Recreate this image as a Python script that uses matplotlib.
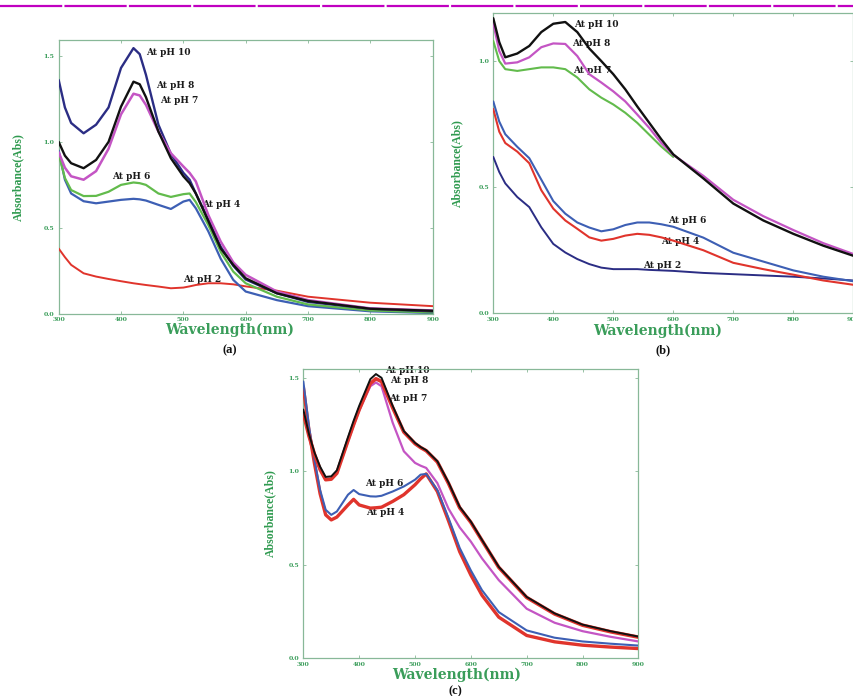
import numpy as np
import matplotlib
matplotlib.use("Agg")
import matplotlib.pyplot as plt
from matplotlib.lines import Line2D

plt.rcParams['font.family'] = 'DejaVu Serif'
plt.rcParams['font.weight'] = 'bold'

nan = np.nan

# panel (a)
wl_a = [300, 310, 320, 340, 360, 380, 400, 420, 430, 440, 460, 480, 500, 510, 520,
        540, 560, 580, 600, 650, 700, 800, 900]
a_ph10 = [1.36, 1.20, 1.11, 1.05, 1.10, 1.20, 1.43, 1.545, 1.51, 1.39, 1.10, 0.93, 0.82, 0.78, 0.70,
          0.55, 0.39, 0.28, 0.20, 0.12, 0.07, 0.03, 0.015]
a_ph8 = [1.00, 0.92, 0.876, 0.847, 0.895, 1.00, 1.205, 1.35, 1.335, 1.26, 1.06, 0.905, 0.80, 0.76, 0.70,
         0.54, 0.38, 0.285, 0.207, 0.12, 0.075, 0.03, 0.018]
a_ph7 = [0.94, 0.85, 0.80, 0.78, 0.83, 0.96, 1.16, 1.28, 1.27, 1.215, 1.06, 0.934, 0.857, 0.82, 0.77,
         0.575, 0.42, 0.30, 0.227, 0.13, 0.08, 0.032, 0.02]
a_ph6 = [0.93, 0.79, 0.72, 0.685, 0.686, 0.71, 0.75, 0.764, 0.76, 0.75, 0.70, 0.68, 0.696, 0.70, 0.65,
         0.517, 0.36, 0.246, 0.178, 0.10, 0.055, 0.02, 0.008]
a_ph4 = [0.95, 0.78, 0.70, 0.655, 0.643, 0.653, 0.663, 0.669, 0.666, 0.659, 0.634, 0.61, 0.653, 0.663, 0.614,
         0.48, 0.32, 0.198, 0.13, 0.08, 0.045, 0.015, 0.005]
a_ph2 = [0.38, 0.33, 0.285, 0.236, 0.217, 0.203, 0.19, 0.178, 0.173, 0.168, 0.159, 0.149, 0.153, 0.16, 0.168,
         0.178, 0.178, 0.172, 0.16, 0.135, 0.10, 0.065, 0.045]

# panel (b)
wl_b = [300, 310, 320, 340, 360, 380, 400, 420, 440, 460, 480, 500, 520, 540, 560, 580, 600,
        650, 700, 750, 800, 850, 900]
b_ph10 = [1.17, 1.075, 1.015, 1.03, 1.06, 1.115, 1.148, 1.155, 1.115, 1.05, 1.00, 0.948, 0.888, 0.82,
          0.755, 0.69, 0.63, 0.535, 0.435, 0.368, 0.315, 0.268, 0.228]
b_ph8 = [1.15, 1.04, 0.99, 0.995, 1.015, 1.055, 1.07, 1.068, 1.02, 0.948, 0.915, 0.88, 0.84, 0.788,
         0.735, 0.675, 0.628, 0.545, 0.45, 0.385, 0.33, 0.278, 0.235]
b_ph7 = [1.08, 1.00, 0.968, 0.961, 0.968, 0.975, 0.975, 0.968, 0.935, 0.888, 0.855, 0.828, 0.795, 0.755,
         0.708, 0.661, 0.62, nan, nan, nan, nan, nan, nan]
b_ph6 = [0.84, 0.76, 0.71, 0.66, 0.615, 0.53, 0.445, 0.395, 0.36, 0.34, 0.325, 0.333, 0.35, 0.36,
         0.36, 0.353, 0.343, 0.30, 0.24, 0.205, 0.17, 0.145, 0.127]
b_ph4 = [0.81, 0.72, 0.675, 0.641, 0.595, 0.488, 0.415, 0.368, 0.335, 0.301, 0.288, 0.295, 0.308, 0.315,
         0.311, 0.301, 0.288, 0.25, 0.20, 0.175, 0.153, 0.13, 0.113]
b_ph2 = [0.62, 0.56, 0.515, 0.461, 0.421, 0.341, 0.275, 0.241, 0.215, 0.195, 0.181, 0.175, 0.175, 0.175,
         0.172, 0.17, 0.168, 0.16, 0.155, 0.15, 0.145, 0.138, 0.13]

# panel (c)
wl_c = [300, 310, 320, 330, 340, 350, 360, 380, 390, 400, 420, 430, 440, 460, 480, 500, 510, 520,
        540, 560, 580, 600, 620, 650, 700, 750, 800, 850, 900]
c_ph10 = [1.33, 1.20, 1.10, 1.025, 0.97, 0.973, 1.005, 1.183, 1.27, 1.35, 1.493, 1.52, 1.50, 1.35,
          1.215, 1.152, 1.13, 1.113, 1.054, 0.94, 0.81, 0.731, 0.633, 0.489, 0.328, 0.24, 0.18, 0.145, 0.116]
c_ph8 = [1.31, 1.19, 1.09, 1.01, 0.955, 0.958, 0.99, 1.165, 1.25, 1.33, 1.47, 1.495, 1.48, 1.34,
         1.21, 1.148, 1.127, 1.11, 1.05, 0.935, 0.805, 0.727, 0.63, 0.486, 0.325, 0.237, 0.177, 0.142, 0.113]
c_ph7 = [1.31, 1.19, 1.09, 1.01, 0.955, 0.958, 0.99, 1.16, 1.245, 1.325, 1.455, 1.475, 1.455, 1.26,
         1.107, 1.045, 1.03, 1.018, 0.937, 0.80, 0.70, 0.624, 0.534, 0.418, 0.265, 0.19, 0.145, 0.115, 0.09]
c_ph6 = [1.48, 1.24, 1.06, 0.90, 0.794, 0.767, 0.785, 0.875, 0.90, 0.878, 0.866, 0.865, 0.869, 0.892,
         0.919, 0.955, 0.982, 0.986, 0.90, 0.75, 0.59, 0.47, 0.364, 0.247, 0.149, 0.11, 0.09, 0.078, 0.068]
c_ph4 = [1.45, 1.22, 1.04, 0.88, 0.767, 0.74, 0.755, 0.82, 0.85, 0.82, 0.803, 0.805, 0.808, 0.839,
         0.875, 0.928, 0.96, 0.986, 0.892, 0.735, 0.57, 0.445, 0.337, 0.22, 0.122, 0.088, 0.07, 0.06, 0.052]

xticks = [300, 400, 500, 600, 700, 800, 900]

navy = '#2b2d84'
black = '#111111'
magenta = '#c455c4'
green = '#62bb4c'
blue = '#3d5fb4'
red = '#e0342c'
spine_col = '#88b898'
label_green = '#3a9d5a'

W, H = 854, 696


def px(x, y):
    return x / W, 1 - y / H


fig = plt.figure(figsize=(W / 100, H / 100), dpi=100)

# magenta rule along the top
fig.add_artist(Line2D([0, 1], [1 - 6 / H, 1 - 6 / H], transform=fig.transFigure,
                      color='#c000c0', lw=1.6, dashes=(28, 1)))


def setup(ax, ytop, yticks):
    ax.set_xlim(300, 900)
    ax.set_ylim(0, ytop)
    ax.set_xticks(xticks)
    ax.set_xticklabels([str(t) for t in xticks])
    ax.set_yticks(yticks)
    ax.set_yticklabels(['%.1f' % t for t in yticks])
    ax.tick_params(direction='in', length=2.5, width=0.6, color=spine_col,
                   labelcolor=label_green, labelsize=4.5, top=True, right=True)
    ax.tick_params(axis='x', pad=2.5)
    ax.tick_params(axis='y', pad=3)
    for s in ax.spines.values():
        s.set_color(spine_col)
        s.set_linewidth(0.9)


def curves(ax, wl, series):
    for y, c, lw in series:
        ax.plot(wl, y, color=c, lw=lw, zorder=3, solid_capstyle='round', solid_joinstyle='round')


def tags(ax, items):
    for x, y, s in items:
        ax.text(x, y, s, fontsize=6.5, fontweight='bold', color='#1a1a1a',
                ha='left', va='center', zorder=2)


ax_a = fig.add_axes([0.0687, 0.549, 0.438, 0.3937])
setup(ax_a, 1.593, [0.0, 0.5, 1.0, 1.5])
curves(ax_a, wl_a, [(a_ph2, red, 1.4), (a_ph4, blue, 1.6), (a_ph6, green, 1.6),
                    (a_ph10, navy, 1.7), (a_ph7, magenta, 1.8), (a_ph8, black, 1.7)])
tags(ax_a, [(441, 1.52, 'At pH 10'), (457, 1.325, 'At pH 8'), (463, 1.24, 'At pH 7'),
            (385, 0.80, 'At pH 6'), (530, 0.634, 'At pH 4'), (500, 0.20, 'At pH 2')])

ax_b = fig.add_axes([0.5776, 0.5499, 0.4216, 0.4319])
setup(ax_b, 1.192, [0.0, 0.5, 1.0])
curves(ax_b, wl_b, [(b_ph2, navy, 1.4), (b_ph4, red, 1.5), (b_ph6, blue, 1.5),
                    (b_ph7, green, 1.5), (b_ph8, magenta, 1.6), (b_ph10, black, 1.7)])
tags(ax_b, [(434, 1.146, 'At pH 10'), (432, 1.07, 'At pH 8'), (433, 0.964, 'At pH 7'),
            (592, 0.366, 'At pH 6'), (580, 0.283, 'At pH 4'), (549, 0.19, 'At pH 2')])

ax_c = fig.add_axes([0.3552, 0.0542, 0.3923, 0.4156])
setup(ax_c, 1.547, [0.0, 0.5, 1.0, 1.5])
curves(ax_c, wl_c, [(c_ph4, red, 2.4), (c_ph6, blue, 1.5), (c_ph7, magenta, 1.6),
                    (c_ph8, red, 2.6), (c_ph10, black, 1.4)])
tags(ax_c, [(446, 1.537, 'At pH 10'), (455, 1.484, 'At pH 8'), (453, 1.39, 'At pH 7'),
            (410, 0.937, 'At pH 6'), (413, 0.78, 'At pH 4')])

# axis titles and panel letters
for x, y in [(18, 177), (457, 163), (270, 513)]:
    fig.text(*px(x, y), 'Absorbance(Abs)', rotation=90, ha='center', va='center',
             family='Liberation Serif', fontweight='bold', fontsize=8.5, color='#2f9a4f')
for x, y in [(230, 330), (658, 331), (457, 675)]:
    fig.text(*px(x, y), 'Wavelength(nm)', ha='center', va='center',
             fontweight='bold', fontsize=10, color=label_green)
for x, y, s in [(230, 350, '(a)'), (663, 350, '(b)'), (455, 691, '(c)')]:
    fig.text(*px(x, y), s, ha='center', va='center', family='Liberation Serif',
             fontweight='bold', fontsize=9, color='#111111')

fig.savefig('out.png', dpi=100)
